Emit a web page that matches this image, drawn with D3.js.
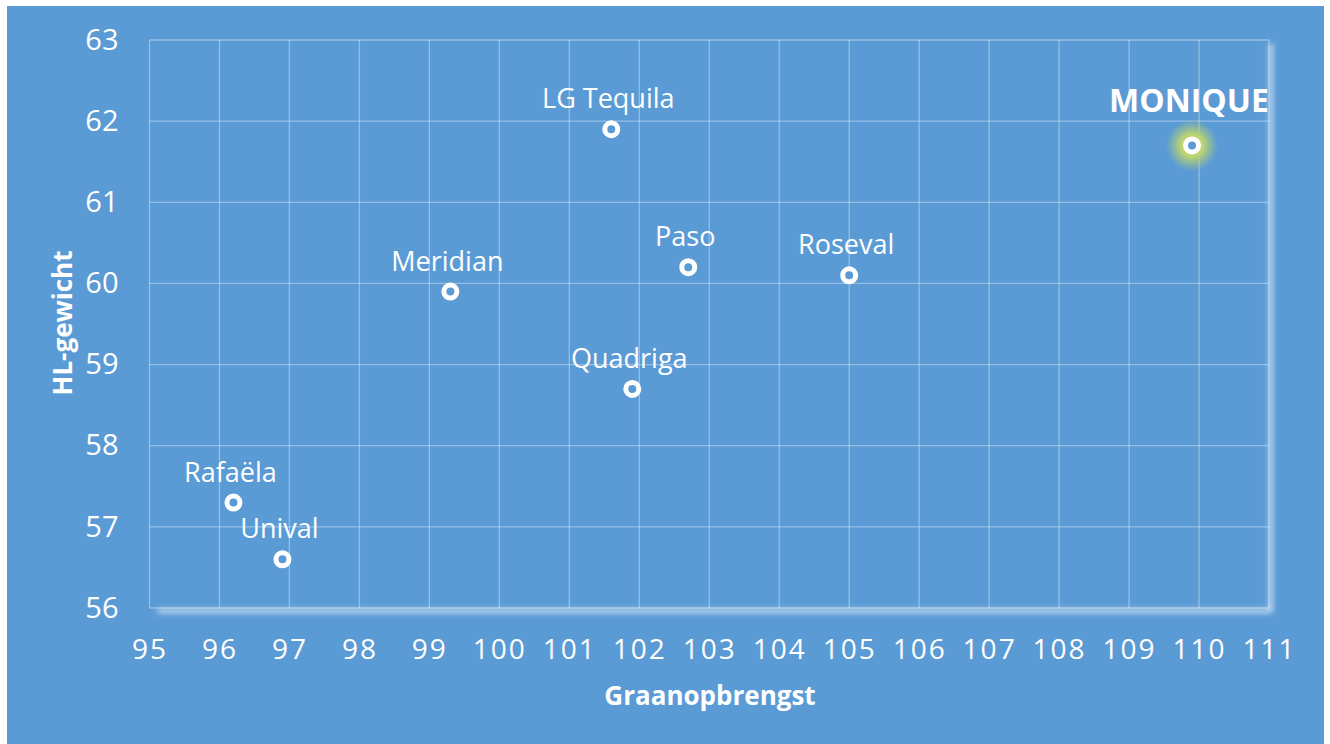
<!DOCTYPE html>
<html>
<head>
<meta charset="utf-8">
<script src="https://cdn.jsdelivr.net/npm/d3@7"></script>
<style>
  body { margin: 0; background: #fff; }
  text { font-family: "Open Sans", "Noto Sans", sans-serif; fill: #fff; }
</style>
</head>
<body>
<div id="chart"></div>
<script>
const width = 1330
const height = 744

// rassen, graanopbrengst (x) en hl-gewicht (y)
const rassen = ['Rafaëla', 'Unival', 'Meridian', 'LG Tequila', 'Quadriga', 'Paso', 'Roseval', 'MONIQUE'];
const opbrengst = [96.2, 96.9, 99.3, 101.6, 101.9, 102.7, 105.0, 109.9];
const hlGewicht = [57.3, 56.6, 59.9, 61.9, 58.7, 60.2, 60.1, 61.7];
const xTicks = d3.range(95, 112, 1);
const yTicks = d3.range(56, 64, 1);
const highlight = 'MONIQUE';

const data = rassen.map((r, i) => ({ ras: r, x: opbrengst[i], y: hlGewicht[i] }));

const margin = { top: 40, right: 61, bottom: 136, left: 149.5 };

const svg = d3.select('#chart').append('svg')
  .attr('width', width).attr('height', height);

const defs = svg.append('defs');
defs.append('filter').attr('id', 'blur')
  .attr('x', '-50%').attr('y', '-50%').attr('width', '200%').attr('height', '200%')
  .append('feGaussianBlur').attr('stdDeviation', 2.5);
const glow = defs.append('radialGradient').attr('id', 'glow');
glow.append('stop').attr('offset', '0%').attr('stop-color', '#d8e66a').attr('stop-opacity', 1);
glow.append('stop').attr('offset', '45%').attr('stop-color', '#c5d86a').attr('stop-opacity', 0.9);
glow.append('stop').attr('offset', '100%').attr('stop-color', '#a8cc70').attr('stop-opacity', 0);

// achtergrond
svg.append('rect')
  .attr('x', 7).attr('y', 6)
  .attr('width', 1317).attr('height', 738)
  .attr('fill', '#5b9bd5');

const x = d3.scaleLinear().domain([95, 111]).range([margin.left, width - margin.right]);
const y = d3.scaleLinear().domain([56, 63]).range([height - margin.bottom, margin.top]);

// gloed langs rechter- en onderrand
const g0 = svg.append('g').attr('filter', 'url(#blur)');
g0.append('line')
  .attr('x1', x(111) + 2).attr('x2', x(111) + 2)
  .attr('y1', y(63) + 4).attr('y2', y(56) + 3)
  .attr('stroke', 'rgba(255,255,255,0.55)').attr('stroke-width', 5);
g0.append('line')
  .attr('x1', x(95) + 8).attr('x2', x(111) + 2)
  .attr('y1', y(56) + 3).attr('y2', y(56) + 3)
  .attr('stroke', 'rgba(255,255,255,0.55)').attr('stroke-width', 5);

// rasterlijnen
svg.append('g')
  .selectAll('line')
  .data(xTicks)
  .enter().append('line')
  .attr('x1', d => x(d)).attr('x2', d => x(d))
  .attr('y1', y(63)).attr('y2', y(56))
  .attr('stroke', 'rgba(255,255,255,0.35)').attr('stroke-width', 1.3);

svg.append('g')
  .selectAll('line')
  .data(yTicks)
  .enter().append('line')
  .attr('x1', x(95)).attr('x2', x(111))
  .attr('y1', d => y(d)).attr('y2', d => y(d))
  .attr('stroke', 'rgba(255,255,255,0.35)').attr('stroke-width', 1.3);

// assen
const xAxis = svg.append('g')
  .attr('transform', 'translate(0,' + y(56) + ')')
  .call(d3.axisBottom(x).tickValues(xTicks).tickSize(0).tickPadding(31).tickFormat(d3.format('d')));
xAxis.select('.domain').remove();
xAxis.selectAll('text')
  .style('font-size', '28px')
  .style('letter-spacing', '2px')
  .attr('fill', '#fff');

const yAxis = svg.append('g')
  .attr('transform', 'translate(' + x(95) + ',0)')
  .call(d3.axisLeft(y).tickValues(yTicks).tickSize(0).tickPadding(31).tickFormat(d3.format('d')));
yAxis.select('.domain').remove();
yAxis.selectAll('text')
  .style('font-size', '29px')
  .attr('fill', '#fff');

// astitels
svg.append('text')
  .attr('x', 710).attr('y', 705)
  .attr('text-anchor', 'middle')
  .style('font-size', '26px').style('font-weight', 'bold')
  .text('Graanopbrengst');

svg.append('text')
  .attr('transform', 'translate(72,' + 323 + ') rotate(-90)')
  .attr('text-anchor', 'middle')
  .style('font-size', '26px').style('font-weight', 'bold')
  .text('HL-gewicht');

// gloed rond het uitgelichte ras
svg.append('g')
  .selectAll('circle')
  .data(data.filter(d => d.ras === highlight))
  .enter().append('circle')
  .attr('cx', d => x(d.x)).attr('cy', d => y(d.y))
  .attr('r', 26)
  .attr('fill', 'url(#glow)');

// punten
svg.append('g')
  .selectAll('circle')
  .data(data)
  .enter().append('circle')
  .attr('cx', d => x(d.x)).attr('cy', d => y(d.y))
  .attr('r', 6.5)
  .attr('fill', '#5b9bd5')
  .attr('stroke', '#fff')
  .attr('stroke-width', 5);

// labels
svg.append('g')
  .selectAll('text')
  .data(data)
  .enter().append('text')
  .attr('x', d => x(d.x) - 3)
  .attr('y', d => y(d.y) - (d.ras === highlight ? 33 : 21))
  .attr('text-anchor', 'middle')
  .style('font-size', d => d.ras === highlight ? '32px' : '27px')
  .style('font-weight', d => d.ras === highlight ? 'bold' : 'normal')
  .text(d => d.ras);
</script>
</body>
</html>
